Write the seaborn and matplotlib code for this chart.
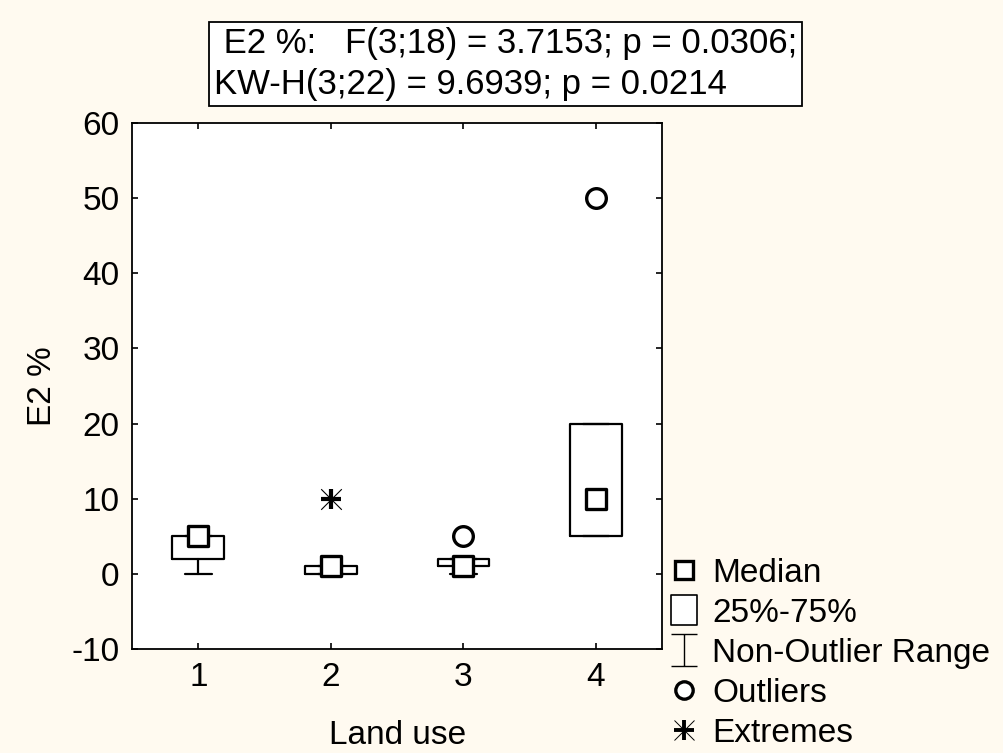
import numpy as np
import matplotlib
matplotlib.use("Agg")
import matplotlib.pyplot as plt
import seaborn as sns
from matplotlib.path import Path
from matplotlib.lines import Line2D
from matplotlib.legend_handler import HandlerTuple

# ---- data ----
categories = [1, 2, 3, 4]
medians = [5, 1, 1, 10]
q1 = [2, 0, 1, 5]
q3 = [5, 1, 2, 20]
whisk_lo = [0, 0, 0, 5]
whisk_hi = [5, 1, 2, 20]
outlier_x = [3, 4]
outlier_y = [5, 50]
extreme_x = [2]
extreme_y = [10]
y_ticks = [-10, 0, 10, 20, 30, 40, 50, 60]
title_lines = [" E2 %:   F(3;18) = 3.7153; p = 0.0306;",
               "KW-H(3;22) = 9.6939; p = 0.0214"]
legend_labels = ["Median", "25%-75%", "Non-Outlier Range", "Outliers", "Extremes"]

sns.set_theme(style="ticks")
plt.rcParams["font.family"] = ["Liberation Sans", "DejaVu Sans"]
plt.rcParams["axes.edgecolor"] = "black"
plt.rcParams["axes.linewidth"] = 1.3
plt.rcParams["axes.unicode_minus"] = False
plt.rcParams["text.color"] = "black"
plt.rcParams["axes.labelcolor"] = "black"

BG = "#fffaf0"
FS = 24
fig = plt.figure(figsize=(10.04, 7.53), dpi=100, facecolor=BG)
ax = fig.add_axes([0.1315, 0.138, 0.528, 0.699])
ax.set_facecolor("white")

stats = []
for i in range(len(categories)):
    stats.append(dict(med=medians[i], q1=q1[i], q3=q3[i],
                      whislo=whisk_lo[i], whishi=whisk_hi[i], fliers=[]))
lw = 1.6
ax.bxp(stats, positions=categories, widths=0.39, capwidths=0.2,
       showfliers=False, patch_artist=False,
       boxprops=dict(color="black", linewidth=lw),
       whiskerprops=dict(color="black", linewidth=lw),
       capprops=dict(color="black", linewidth=lw),
       medianprops=dict(linewidth=0))

sns.scatterplot(x=categories, y=medians, marker="s", s=200, color="white",
                edgecolor="black", linewidth=2.4, ax=ax, zorder=5)
sns.scatterplot(x=outlier_x, y=outlier_y, marker="o", s=200, color="white",
                edgecolor="black", linewidth=2.4, ax=ax, zorder=5)
sns.scatterplot(x=extreme_x, y=extreme_y, marker="+", s=220, color="black",
                linewidth=3.0, ax=ax, zorder=5)
sns.scatterplot(x=extreme_x, y=extreme_y, marker="x", s=220, color="black",
                linewidth=0.8, ax=ax, zorder=5)

ax.set_xlim(0.5, 4.5)
ax.set_ylim(-10, 60)
ax.set_xticks(categories)
ax.set_xticklabels([str(c) for c in categories])
ax.set_yticks(y_ticks)
ax.tick_params(direction="in", length=4, width=1.2, top=True, right=True,
               labelsize=FS, pad=9, colors="black")
for s in ax.spines.values():
    s.set_visible(True)
    s.set_color("black")
ax.set_xlabel("Land use", fontsize=FS, labelpad=20)
ax.set_ylabel("E2 %", fontsize=FS, labelpad=10)

# title box
fig.text(214 / 1004, 1 - 27 / 753, "\n".join(title_lines), ha="left", va="top",
         fontsize=25, linespacing=1.3, color="black",
         bbox=dict(boxstyle="square,pad=0.14", facecolor="white",
                   edgecolor="black", linewidth=1.3))

# legend
whisk_path = Path([(-0.8, 1), (0.8, 1), (0, 1), (0, -1), (-0.8, -1), (0.8, -1)],
                  [Path.MOVETO, Path.LINETO, Path.MOVETO, Path.LINETO,
                   Path.MOVETO, Path.LINETO])
rect_path = Path([(-0.85, -1), (0.85, -1), (0.85, 1), (-0.85, 1), (-0.85, -1)],
                 [Path.MOVETO, Path.LINETO, Path.LINETO, Path.LINETO,
                  Path.CLOSEPOLY])
h_med = Line2D([], [], marker="s", markersize=13, markerfacecolor="white",
               markeredgecolor="black", markeredgewidth=2.4, linestyle="none")
h_box = Line2D([], [], marker=rect_path, markersize=22, markerfacecolor="white",
               markeredgecolor="black", markeredgewidth=1.2, linestyle="none")
h_whi = Line2D([], [], marker=whisk_path, markersize=23, color="black",
               markeredgewidth=1.0, linestyle="none")
h_out = Line2D([], [], marker="o", markersize=12.5, markerfacecolor="white",
               markeredgecolor="black", markeredgewidth=2.4, linestyle="none")
h_ex1 = Line2D([], [], marker="+", markersize=15, color="black",
               markeredgewidth=2.8, linestyle="none")
h_ex2 = Line2D([], [], marker="x", markersize=15, color="black",
               markeredgewidth=0.7, linestyle="none")
leg = fig.legend([h_med, h_box, h_whi, h_out, (h_ex1, h_ex2)], legend_labels,
                 handler_map={tuple: HandlerTuple(ndivide=1, pad=0)},
                 loc="upper left", bbox_to_anchor=(672 / 1004, 1 - 558 / 753),
                 frameon=False, fontsize=FS, handlelength=0.75,
                 handletextpad=0.45, labelspacing=0.27, borderpad=0,
                 borderaxespad=0)
for t in leg.get_texts():
    t.set_color("black")

fig.savefig("out.png", dpi=100, facecolor=BG)
